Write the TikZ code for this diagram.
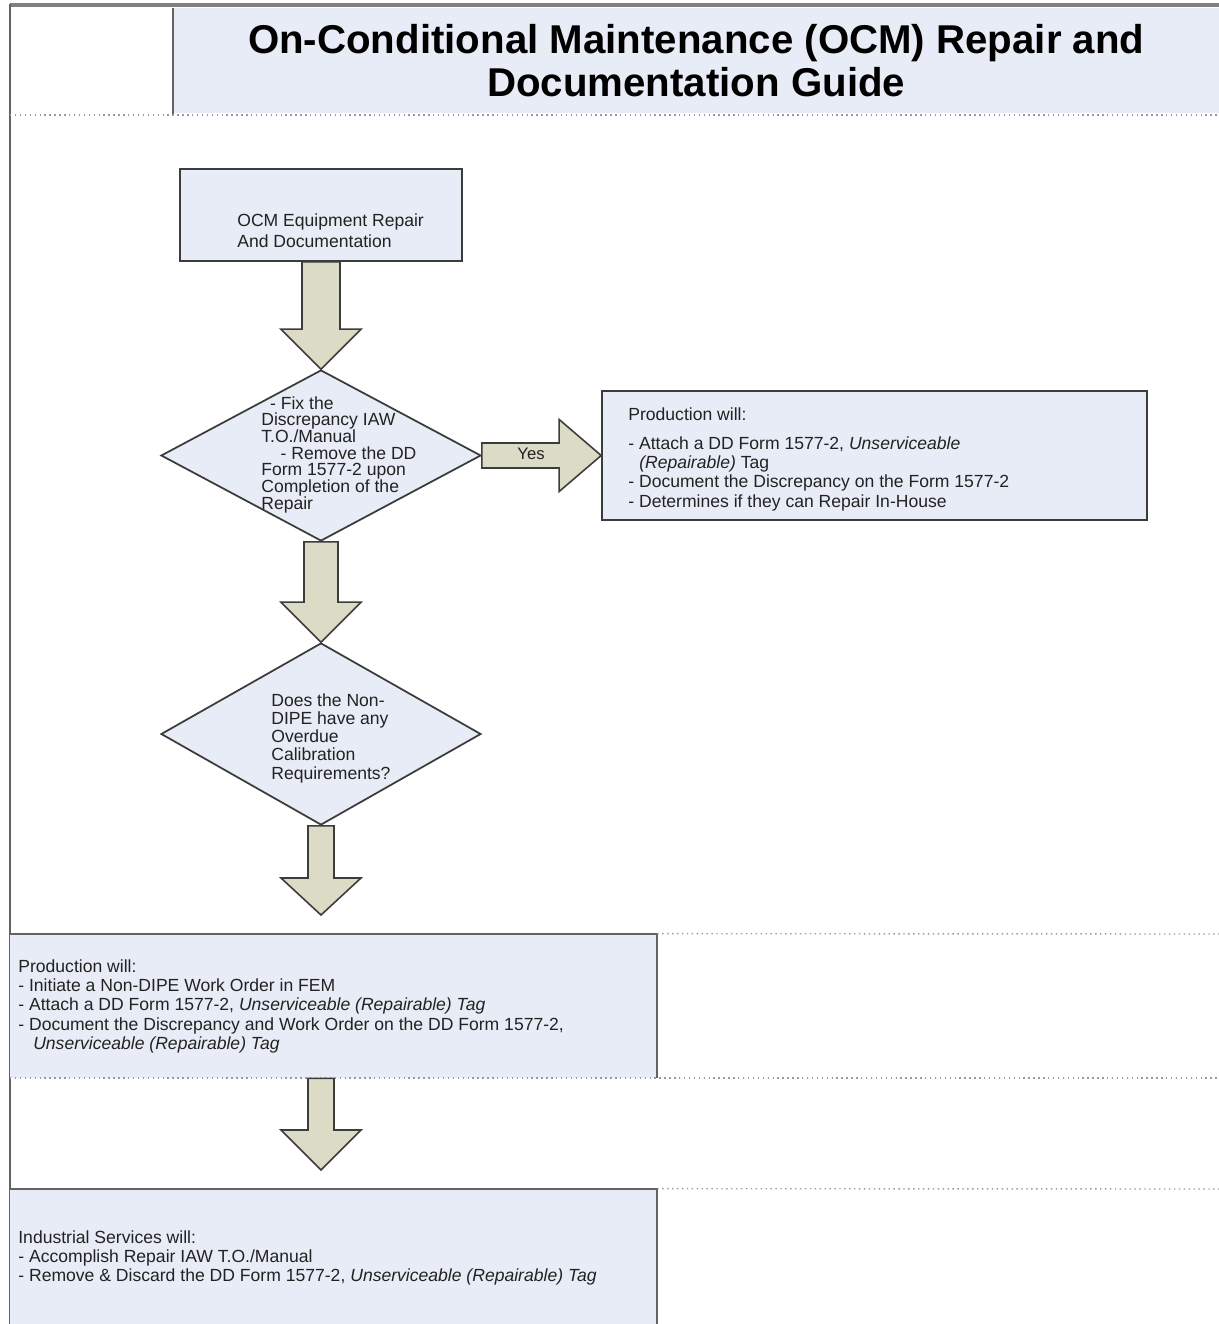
\documentclass[tikz,border=0pt]{standalone}
\usepackage{fontspec}
\setmainfont{Liberation Sans}
\usetikzlibrary{shapes.geometric,calc}
\definecolor{boxfill}{HTML}{E8ECF6}
\definecolor{arrowfill}{HTML}{DCDCC6}
\definecolor{edgecol}{HTML}{3C3C3C}
\definecolor{dotcol}{HTML}{9A9A9A}
\definecolor{txtcol}{HTML}{222222}
\newcommand{\vblk}[5]{%
  \draw[blockarrow] ($(#1)+(-#3,0)$) -- ($(#2)+(-#3,-#5)$) -- ($(#2)+(-#4,-#5)$) -- (#2)
    -- ($(#2)+(#4,-#5)$) -- ($(#2)+(#3,-#5)$) -- ($(#1)+(#3,0)$) -- cycle;}
\newcommand{\hblk}[5]{%
  \draw[blockarrow] ($(#1)+(0,-#3)$) -- ($(#2)+(-#5,-#3)$) -- ($(#2)+(-#5,-#4)$) -- (#2)
    -- ($(#2)+(-#5,#4)$) -- ($(#2)+(-#5,#3)$) -- ($(#1)+(0,#3)$) -- cycle;}
\begin{document}
\begin{tikzpicture}[x=0.02cm,y=-0.02cm,
  boxstyle/.style={rectangle, draw=edgecol, line width=1pt, fill=boxfill, inner sep=0},
  panel/.style={rectangle, fill=boxfill, inner sep=0},
  decision/.style={diamond, draw=edgecol, line width=1pt, fill=boxfill, inner sep=0},
  txt/.style={font=\fontsize{10}{11}\selectfont, align=left, inner sep=0, anchor=north west, text=txtcol},
  blockarrow/.style={draw=edgecol, line width=0.9pt, fill=arrowfill, line join=miter},
  divider/.style={dotcol, dotted, line width=0.8pt},
  frame/.style={draw=edgecol!80, line width=1.1pt}]
\useasboundingbox (0,0) rectangle (1219,1324);
\fill[white] (0,0) rectangle (1219,1324);

% header
\node[panel, minimum width=20.92cm, minimum height=2.1cm, anchor=north west,
      align=center, font=\fontsize{22.9}{24.6}\selectfont\bfseries, text=black] (title) at (173,8)
  {On-Conditional Maintenance (OCM) Repair and\\Documentation Guide};
\draw[frame] (title.north west) -- (title.south west);
\draw[gray, line width=2.2pt] (10,5) -- (1219,5);
\draw[frame] (10,4) -- (10,1324);
\draw[divider] (10,115) -- (1219,115);

% start box
\node[boxstyle, minimum width=5.64cm, minimum height=1.84cm] (b1) at (321,215) {};
\node[txt, font=\fontsize{10}{12}\selectfont] (b1t) at (237,213) {OCM Equipment Repair\\And Documentation};

% decision 1
\node[decision, minimum width=6.4cm, minimum height=3.42cm] (d1) at (321,455.5) {};
\node[txt, font=\fontsize{10}{9.5}\selectfont] (d1t) at (261,396)
  {\hspace*{0.5em}- Fix the\\Discrepancy IAW\\T.O./Manual\\\hspace*{1.1em}- Remove the DD\\Form 1577-2 upon\\Completion of the\\Repair};

% production box (right)
\node[boxstyle, minimum width=10.9cm, minimum height=2.58cm] (b2) at (874.5,455.5) {};
\node[txt] (b2t) at (628,407)
  {Production will:\\[5.5pt]
   - Attach a DD Form 1577-2, \textit{Unserviceable}\\
   \hspace*{0.62em}\textit{(Repairable)} Tag\\
   - Document the Discrepancy on the Form 1577-2\\
   - Determines if they can Repair In-House};

% decision 2
\node[decision, minimum width=6.4cm, minimum height=3.64cm] (d2) at (321,734) {};
\node[txt, font=\fontsize{10}{10.4}\selectfont] (d2t) at (271,693)
  {Does the Non-\\DIPE have any\\Overdue\\Calibration\\Requirements?};

% production box (bottom)
\node[panel, minimum width=12.94cm, minimum height=2.88cm] (b3) at (333.5,1006) {};
\draw[frame] (b3.north west) -- (b3.north east) -- (b3.south east);
\draw[divider] (b3.north east) -- (1219,934);
\draw[divider] (10,1078) -- (1219,1078);
\node[txt] (b3t) at (18,959)
  {Production will:\\
   - Initiate a Non-DIPE Work Order in FEM\\
   - Attach a DD Form 1577-2, \textit{Unserviceable (Repairable) Tag}\\
   - Document the Discrepancy and Work Order on the DD Form 1577-2,\\
   \hspace*{0.85em}\textit{Unserviceable (Repairable) Tag}};

% industrial services box
\node[panel, minimum width=12.94cm, minimum height=2.7cm] (b4) at (333.5,1256.5) {};
\draw[frame] (b4.south east) -- (b4.north east) -- (b4.north west);
\draw[divider] (b4.north east) -- (1219,1189);
\node[txt] (b4t) at (18,1230)
  {Industrial Services will:\\
   - Accomplish Repair IAW T.O./Manual\\
   - Remove \& Discard the DD Form 1577-2, \textit{Unserviceable (Repairable) Tag}};

% block arrows
\coordinate (a3end) at (321,915);
\coordinate (a4start) at (b3.south -| d2.south);
\coordinate (a4end) at (321,1170);
\vblk{b1.south}{d1.north}{19}{40}{40}
\vblk{d1.south}{d2.north}{17}{40}{40}
\vblk{d2.south}{a3end}{13}{40}{37}
\vblk{a4start}{a4end}{13}{40}{40}
\hblk{d1.east}{b2.west}{12.5}{36}{42}
\node[inner sep=0, font=\fontsize{9.5}{10}\selectfont, text=txtcol] (yes) at (531,454) {Yes};
\end{tikzpicture}
\end{document}
